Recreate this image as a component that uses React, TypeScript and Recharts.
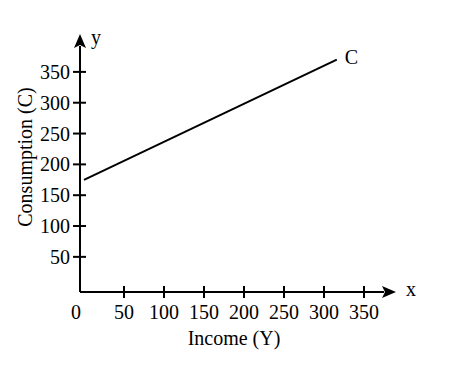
import { LineChart, Line, XAxis, YAxis, Label } from "recharts";

// income (Y) and consumption (C) at the two ends of the C line
const income = [0, 316];
const consumption = [175, 370];
const xTicks = [0, 50, 100, 150, 200, 250, 300, 350];
const yTicks = [50, 100, 150, 200, 250, 300, 350];
const seriesName = "C";

const data = income.map((v, i) => ({ income: v, consumption: consumption[i] }));

const FONT = "'Liberation Serif', 'Times New Roman', serif";
const textStyle = { fontFamily: FONT, fontSize: 20, fill: "#000" };

function XTick(props: any) {
  const { x, y, payload } = props;
  if (payload.value === 0) {
    return (
      <text x={x - 8} y={y + 27} textAnchor="middle" style={textStyle}>
        0
      </text>
    );
  }
  return (
    <g>
      <line x1={x} x2={x} y1={y - 6} y2={y + 6} stroke="#000" strokeWidth={2} />
      <text x={x} y={y + 27} textAnchor="middle" style={textStyle}>
        {payload.value}
      </text>
    </g>
  );
}

function YTick(props: any) {
  const { x, y, payload } = props;
  return (
    <g>
      <line x1={x - 7} x2={x + 6} y1={y} y2={y} stroke="#000" strokeWidth={2} />
      <text x={x - 10} y={y + 7} textAnchor="end" style={textStyle}>
        {payload.value}
      </text>
    </g>
  );
}

function EndLabel(props: any) {
  const { x, y, index } = props;
  if (index !== income.length - 1) return null;
  return (
    <text x={x + 8} y={y + 4} style={textStyle}>
      {seriesName}
    </text>
  );
}

const axisLineStyle = { stroke: "#000", strokeWidth: 2 };

export default function App() {
  return (
    <div style={{ position: "absolute", left: 0, top: 0, background: "#fff" }}>
      <LineChart
        width={450}
        height={372}
        data={data}
        margin={{ top: 46, right: 66, bottom: 20, left: 20 }}
      >
        <defs>
          <marker
            id="arrow"
            viewBox="0 0 14 12"
            refX={2}
            refY={6}
            markerWidth={14}
            markerHeight={12}
            markerUnits="userSpaceOnUse"
            orient="auto-start-reverse"
          >
            <path d="M0,0 L14,6 L0,12 L3,6 z" fill="#000" />
          </marker>
        </defs>
        <XAxis
          type="number"
          dataKey="income"
          domain={[-5, 375]}
          ticks={xTicks}
          interval={0}
          height={60}
          tickSize={0}
          tickMargin={0}
          tickLine={false}
          tick={<XTick />}
          axisLine={{ ...axisLineStyle, markerEnd: "url(#arrow)" }}
        >
          <Label value="Income (Y)" position="insideBottom" offset={7} dx={2} style={textStyle} />
          <Label value="x" position="right" offset={22} dy={-33} style={textStyle} />
        </XAxis>
        <YAxis
          type="number"
          domain={[-7, 392]}
          ticks={yTicks}
          interval={0}
          width={60}
          tickSize={0}
          tickMargin={0}
          tickLine={false}
          tick={<YTick />}
          axisLine={{ ...axisLineStyle, markerStart: "url(#arrow)" }}
        >
          <Label value="Consumption (C)" angle={-90} position="center" dx={-25} dy={-12} style={textStyle} />
          <Label value="y" position="top" offset={2} dx={46} style={textStyle} />
        </YAxis>
        <Line
          dataKey="consumption"
          name={seriesName}
          stroke="#000"
          strokeWidth={2}
          dot={false}
          label={<EndLabel />}
          isAnimationActive={false}
        />
      </LineChart>
    </div>
  );
}
